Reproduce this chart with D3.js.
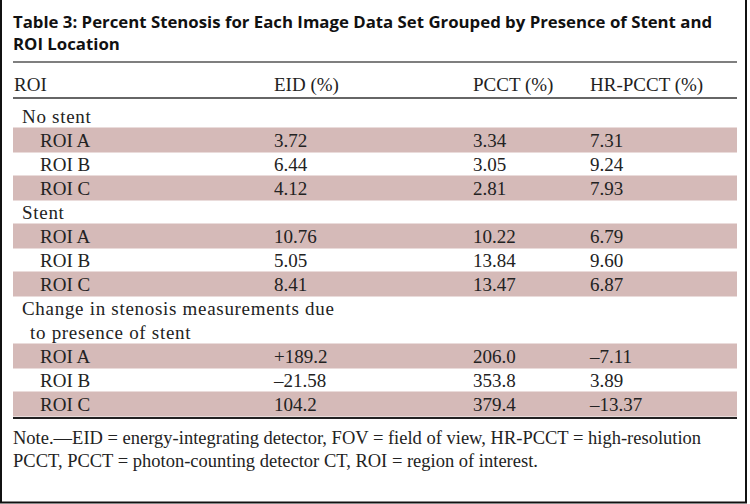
<!DOCTYPE html>
<html>
<head>
<meta charset="utf-8">
<script src="https://cdn.jsdelivr.net/npm/d3@7"></script>
<style>
  html, body { margin: 0; padding: 0; background: #fff; }
  svg { display: block; }
</style>
</head>
<body>
<svg id="chart" width="750" height="504"></svg>
<script>
// ---- data ----
const titleLines = ["Table 3: Percent Stenosis for Each Image Data Set Grouped by Presence of Stent and", "ROI Location"];
const headers = ["ROI", "EID (%)", "PCCT (%)", "HR-PCCT (%)"];
const groups = ["No stent", "Stent", "Change in stenosis measurements due|to presence of stent"];
const rois = ["ROI A", "ROI B", "ROI C"];
const eidValues  = ["3.72", "6.44", "4.12", "10.76", "5.05", "8.41", "+189.2", "–21.58", "104.2"];
const pcctValues = ["3.34", "3.05", "2.81", "10.22", "13.84", "13.47", "206.0", "353.8", "379.4"];
const hrValues   = ["7.31", "9.24", "7.93", "6.79", "9.60", "6.87", "–7.11", "3.89", "–13.37"];
const noteLines = ["Note.—EID = energy-integrating detector, FOV = field of view, HR-PCCT = high-resolution", "PCCT, PCCT = photon-counting detector CT, ROI = region of interest."];

// ---- build rows ----
const rows = [];
groups.forEach((g, gi) => {
  g.split("|").forEach((line, li) => rows.push({type: "group", label: line, cont: li > 0}));
  rois.forEach((r, ri) => {
    const k = gi * 3 + ri;
    rows.push({type: "data", label: r, vals: [eidValues[k], pcctValues[k], hrValues[k]], shade: ri !== 1});
  });
});

const svg = d3.select("#chart");
const W = 750, H = 504;
const left = 13, right = 737;
const serif = "'Liberation Serif', 'Times New Roman', serif";
const bodySize = 19;

const y = d3.scaleLinear().domain([0, rows.length - 1]).range([116, 404]);
const colX = d3.scaleOrdinal().domain([0, 1, 2, 3]).range([14, 274, 473, 590]);

// outer border (left, right, bottom)
svg.append("path")
  .attr("d", `M1,0 V${H - 1.5} H${W - 4} V0`)
  .attr("fill", "none").attr("stroke", "#111").attr("stroke-width", 2);

// title
svg.append("g").selectAll("text").data(titleLines).join("text")
  .attr("x", left).attr("y", (d, i) => 28 + i * 22)
  .attr("font-family", "'Open Sans', Lato, sans-serif").attr("font-weight", 700)
  .attr("font-size", 16.8).attr("fill", "#111").text(d => d);

// rules
const rule = (yy, sw, c) => svg.append("line").attr("x1", left).attr("x2", right)
  .attr("y1", yy).attr("y2", yy).attr("stroke", c).attr("stroke-width", sw);

// bands
svg.append("g").selectAll("rect").data(rows.map((r, i) => ({...r, i})).filter(r => r.shade)).join("rect")
  .attr("x", left).attr("width", right - left)
  .attr("y", d => y(d.i) - 12.5).attr("height", 25)
  .attr("fill", "#d5bab8");

rule(62, 1.5, "#555");
rule(98, 2, "#666");
rule(418, 2, "#222");

// header
svg.append("g").selectAll("text").data(headers).join("text")
  .attr("x", (d, i) => colX(i)).attr("y", 84).attr("dy", "0.35em")
  .attr("font-family", serif).attr("font-size", bodySize).attr("fill", "#222").text(d => d);

// rows
const rg = svg.append("g").selectAll("g").data(rows).join("g")
  .attr("transform", (d, i) => `translate(0,${y(i)})`);
rg.append("text")
  .attr("x", d => d.type === "group" ? (d.cont ? 30 : 22) : 40).attr("dy", "0.35em")
  .attr("font-family", serif).attr("font-size", bodySize).attr("fill", "#222")
  .attr("letter-spacing", d => d.type === "group" ? 0.7 : 0).text(d => d.label);
rg.filter(d => d.type === "data").selectAll("text.v").data(d => d.vals).join("text")
  .attr("class", "v").attr("x", (d, i) => colX(i + 1)).attr("dy", "0.35em")
  .attr("font-family", serif).attr("font-size", bodySize).attr("fill", "#222").text(d => d);

// note
svg.append("g").selectAll("text").data(noteLines).join("text")
  .attr("x", left).attr("y", 438).attr("dy", (d, i) => (0.35 + i * 1.2) + "em")
  .attr("font-family", serif).attr("font-size", 18.5).attr("fill", "#222").text(d => d);
</script>
</body>
</html>
